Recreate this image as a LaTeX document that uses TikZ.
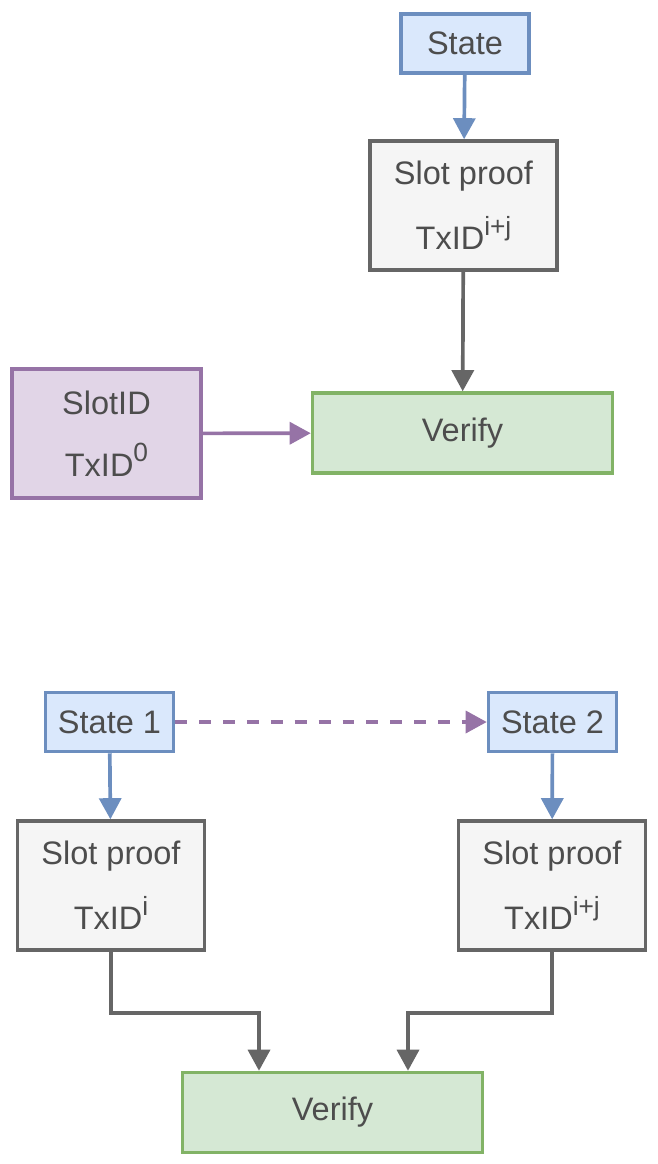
\documentclass[tikz,border=0pt]{standalone}
\usepackage{fontspec}
\setmainfont{Liberation Sans}
\usepackage{xcolor}
\usetikzlibrary{positioning,arrows.meta}
\definecolor{bluefill}{HTML}{DAE8FC}
\definecolor{blueline}{HTML}{6C8EBF}
\definecolor{grayfill}{HTML}{F5F5F5}
\definecolor{grayline}{HTML}{666666}
\definecolor{greenfill}{HTML}{D5E8D4}
\definecolor{greenline}{HTML}{82B366}
\definecolor{purplefill}{HTML}{E1D5E7}
\definecolor{purpleline}{HTML}{9673A6}
\definecolor{txtgray}{HTML}{4D4D4D}
\newcommand\supidx[1]{\raisebox{0.45em}{\fontsize{15}{15}\selectfont #1}}

\begin{document}
\begin{tikzpicture}[x=0.02cm,y=-0.02cm,
 box/.style={draw,line width=2pt,align=center,inner sep=0pt,text=txtgray,font=\fontsize{18.5}{22}\selectfont},
 state/.style={box,fill=bluefill,draw=blueline,minimum width=2.56cm,minimum height=1.18cm},
 proof/.style={box,fill=grayfill,draw=grayline,minimum width=3.74cm,minimum height=2.58cm},
 slotid/.style={box,fill=purplefill,draw=purpleline,minimum width=3.78cm,minimum height=2.58cm},
 verify/.style={box,fill=greenfill,draw=greenline,minimum width=6cm,minimum height=1.6cm},
 arr/.style={-{Triangle[length=12pt,width=12.5pt]},line width=2.1pt}]
\useasboundingbox (0,0) rectangle (658,1164);
% upper picture
\node[state] (st) at (465,43.5) {State};
\node[proof] (pr) at (463.5,205.5) {Slot proof\\[13pt]TxID\supidx{i+j}};
\node[verify] (ver) at (462.5,433) {Verify};
\node[slotid] (sid) at (106.5,433.5) {SlotID\\[13pt]TxID\supidx{0}};
\draw[arr,blueline] (st)--(pr); \draw[arr,grayline] (pr)--(ver);
\draw[arr,purpleline] (sid)--(ver);
% lower picture
\node[state] (st1) at (109.5,722) {State 1};
\node[state] (st2) at (552.5,722) {State 2};
\node[proof] (pri) at (111,885.5) {Slot proof\\[13pt]TxID\supidx{i}};
\node[proof] (prij) at (552,885.5) {Slot proof\\[13pt]TxID\supidx{i+j}};
\node[verify] (ver2) at (332.5,1112.5) {Verify};
\coordinate (ja) at (259,1013); \coordinate (jb) at (408,1013);
\draw[arr,purpleline,dash pattern=on 6.8pt off 6.8pt] (st1)--(st2);
\draw[arr,blueline] (st1)--(pri); \draw[arr,blueline] (st2)--(prij);
\draw[arr,grayline] (pri.south) |- (ja) -- (ja |- ver2.north);
\draw[arr,grayline] (prij.south) |- (jb) -- (jb |- ver2.north);
\end{tikzpicture}
\end{document}
